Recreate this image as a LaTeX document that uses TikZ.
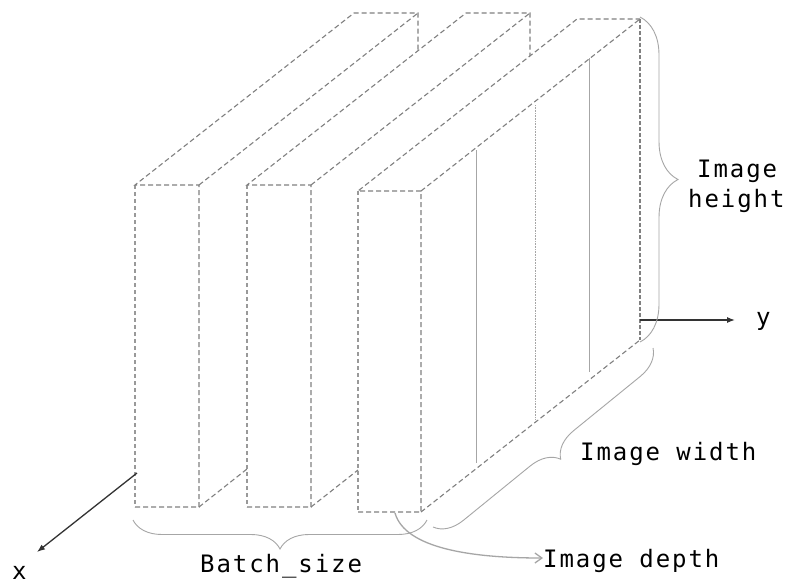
\documentclass[tikz,border=0pt]{standalone}
\usepackage{fontspec}
\newfontfamily\lblfont{DejaVu Sans Mono}[LetterSpace=8]
\usetikzlibrary{decorations.pathreplacing,arrows.meta}
\begin{document}
\begin{tikzpicture}[x=1pt,y=-1pt,
  edge/.style={draw=black!50, line width=1.1pt, dash pattern=on 5pt off 3pt},
  fedge/.style={draw=black!40, line width=1.1pt, dash pattern=on 4pt off 3pt},
  inner/.style={draw=black!35, line width=0.9pt},
  innerdot/.style={draw=black!35, line width=0.9pt, dash pattern=on 0.8pt off 0.8pt},
  axis/.style={draw=black!80, line width=1.3pt, -{Latex[length=8pt,width=6pt]}},
  bracestyle/.style={draw=black!35, line width=0.9pt, decorate},
  lbl/.style={font=\lblfont\fontsize{24}{30}\selectfont, inner sep=0pt, text=black}]
\useasboundingbox (0,0) rectangle (791,586);
\fill[white] (0,0) rectangle (791,586);
% box 1
\coordinate (a1tl) at (135,185); \coordinate (a1tr) at (199,185);
\coordinate (a1bl) at (135,507); \coordinate (a1br) at (199,507);
\coordinate (b1tl) at (354,13); \coordinate (b1tr) at (418,13);
\coordinate (b1cut) at (418,51); \coordinate (h1) at (247,469);
% box 2
\coordinate (a2tl) at (247,185); \coordinate (a2tr) at (311,185);
\coordinate (a2bl) at (247,507); \coordinate (a2br) at (311,507);
\coordinate (b2tl) at (466,13); \coordinate (b2tr) at (530,13);
\coordinate (b2cut) at (530,56); \coordinate (h2) at (358,470);
% box 3
\coordinate (a3tl) at (358,191); \coordinate (a3tr) at (421,191);
\coordinate (a3bl) at (358,512); \coordinate (a3br) at (421,512);
\coordinate (b3tl) at (577,19); \coordinate (b3tr) at (640,19);
\coordinate (b3br) at (640,340);
% box 1 edges
\draw[fedge] (a1tl) -- (a1bl);
\draw[edge] (a1bl) -- (a1br) -- (a1tr) -- (a1tl) -- (b1tl) -- (b1tr) -- (b1cut);
\draw[edge] (a1tr) -- (b1tr);
\draw[edge] (a1br) -- (h1);
% box 2 edges
\draw[fedge] (a2tl) -- (a2bl);
\draw[edge] (a2bl) -- (a2br) -- (a2tr) -- (a2tl) -- (b2tl) -- (b2tr) -- (b2cut);
\draw[edge] (a2tr) -- (b2tr);
\draw[edge] (a2br) -- (h2);
% box 3 edges
\draw[fedge] (a3tl) -- (a3bl);
\draw[edge] (a3bl) -- (a3br) -- (a3tr) -- (a3tl) -- (b3tl) -- (b3tr);
\draw[edge] (a3tr) -- (b3tr);
\draw[edge, dash pattern=on 4pt off 2pt] (b3tr) -- (b3br);
\draw[edge] (a3br) -- (b3br);
% inner slices
\coordinate (s1t) at (476,150); \coordinate (s1b) at (476,463);
\coordinate (s2t) at (535,105); \coordinate (s2b) at (535,419);
\coordinate (s3t) at (589,58);  \coordinate (s3b) at (589,372);
\draw[inner] (s1t) -- (s1b);
\draw[innerdot] (s2t) -- (s2b);
\draw[inner] (s3t) -- (s3b);
% axes
\coordinate (xo) at (137,473); \coordinate (xe) at (37,552);
\coordinate (yo) at (640,320); \coordinate (ye) at (735,320);
\draw[axis] (xo) -- (xe);
\draw[axis] (yo) -- (ye);
\node[lbl, anchor=base west] (xl) at (12,579) {x};
\node[lbl, anchor=base west] (yl) at (756,325) {y};
% braces
\coordinate (hb1) at (640,17); \coordinate (hb2) at (640,342);
\draw[bracestyle, decoration={brace, amplitude=38pt}] (hb1) -- (hb2);
\coordinate (wb1) at (653,348); \coordinate (wb2) at (433,527);
\draw[bracestyle, decoration={brace, amplitude=28pt}] (wb1) -- (wb2);
\coordinate (bb1) at (427,520); \coordinate (bb2) at (133,520);
\draw[bracestyle, decoration={brace, amplitude=29pt}] (bb1) -- (bb2);
% labels
\node[lbl, anchor=base west] (hl1) at (697,177) {Image};
\node[lbl, anchor=base west] (hl2) at (688,207) {height};
\node[lbl, anchor=base west] (wl) at (580,460) {Image width};
\node[lbl, anchor=base west] (bl) at (200,572) {Batch\_size};
\node[lbl, anchor=base west] (dl) at (543,567) {Image depth};
% depth arrow
\coordinate (ds) at (395,513);
\draw[draw=black!35, line width=1.3pt, -{Straight Barb[length=7pt,width=10pt]}]
  (ds) .. controls (405,548) and (470,558) .. (dl.west |- 0,558);
\end{tikzpicture}
\end{document}
